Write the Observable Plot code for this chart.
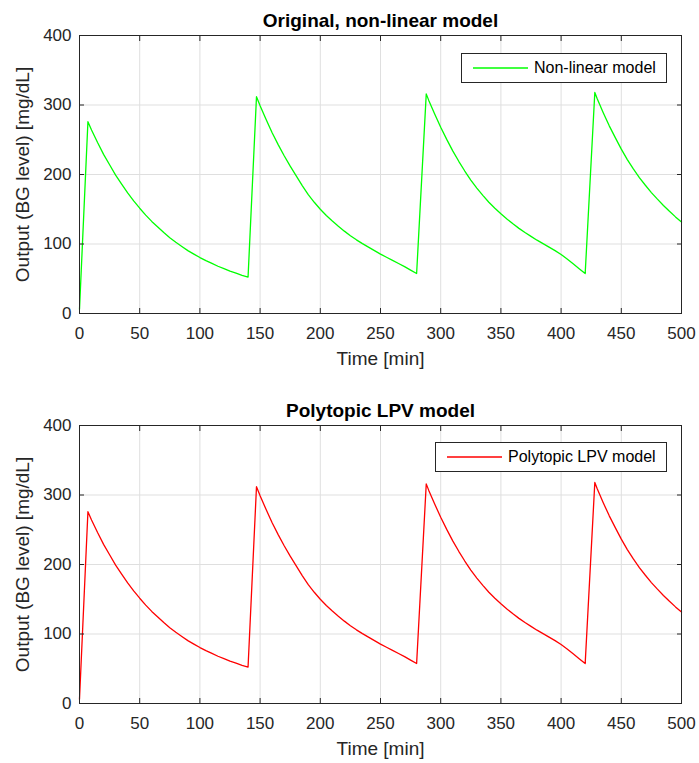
<!DOCTYPE html>
<html><head><meta charset="utf-8">
<script src="https://cdn.jsdelivr.net/npm/d3@7"></script>
<script src="https://cdn.jsdelivr.net/npm/@observablehq/plot@0.6"></script>
<style>
body{margin:0;background:#fff;font-family:"Liberation Sans",Arial,Helvetica,sans-serif;}
.panel{position:relative;width:699px;}
.panel svg{display:block;}
.legend{position:absolute;box-sizing:border-box;border:1px solid #262626;background:#fff;display:flex;align-items:center;font-size:16px;color:#000;padding-left:11px;}
.legend svg{margin-right:6px;}
</style></head><body>
<div id="chart"></div>
<script>
const time = [
  0, 7, 10, 15, 20, 25, 30, 35, 40, 45, 50, 55, 60, 65, 70, 75, 80, 85, 90, 95, 100, 105, 110, 115, 120, 125, 130, 135, 140,
  147, 150, 155, 160, 165, 170, 175, 180, 185, 190, 195, 200, 205, 210, 215, 220, 225, 230, 235, 240, 245, 250, 255, 260, 265, 270, 275, 280,
  288, 290, 295, 300, 305, 310, 315, 320, 325, 330, 335, 340, 345, 350, 355, 360, 365, 370, 375, 380, 385, 390, 395, 400, 405, 410, 415, 420,
  428, 430, 435, 440, 445, 450, 455, 460, 465, 470, 475, 480, 485, 490, 495, 500
];
const nonlinear = [
  6, 276, 264, 246, 229, 214, 199, 186, 173.5, 162, 151.5, 141.5, 132.5, 124.5, 116.5, 109, 102.5, 96.5, 90.5, 85.5, 80.5, 76, 72, 68, 64.5, 61, 58, 55, 52.5,
  312, 299, 279, 260, 243, 227, 212, 198, 184, 171, 160, 150, 141, 133, 125.5, 118.5, 112, 106, 100.5, 95.5, 90.5, 85.5, 81, 76.5, 72, 67.5, 62.5, 57.5,
  316, 307, 287, 268, 250.5, 234, 219, 205, 192, 180.5, 170, 160, 151.5, 143.5, 136, 129, 122.5, 116.5, 111, 105.5, 100.5, 95.5, 90.5, 85, 78.5, 71.5, 64.5, 57.5,
  318, 309, 289, 270, 253, 236.5, 221.5, 208, 195.5, 184.5, 174, 164.5, 155.5, 147, 139, 131.5
];
const lpv = [
  6, 276, 264, 246, 229, 214, 199, 186, 173.5, 162, 151.5, 141.5, 132.5, 124.5, 116.5, 109, 102.5, 96.5, 90.5, 85.5, 80.5, 76, 72, 68, 64.5, 61, 58, 55, 52.5,
  312, 299, 279, 260, 243, 227, 212, 198, 184, 171, 160, 150, 141, 133, 125.5, 118.5, 112, 106, 100.5, 95.5, 90.5, 85.5, 81, 76.5, 72, 67.5, 62.5, 57.5,
  316, 307, 287, 268, 250.5, 234, 219, 205, 192, 180.5, 170, 160, 151.5, 143.5, 136, 129, 122.5, 116.5, 111, 105.5, 100.5, 95.5, 90.5, 85, 78.5, 71.5, 64.5, 57.5,
  318, 309, 289, 270, 253, 236.5, 221.5, 208, 195.5, 184.5, 174, 164.5, 155.5, 147, 139, 131.5
];
const xTicks = [0, 50, 100, 150, 200, 250, 300, 350, 400, 450, 500];
const yTicks = [0, 100, 200, 300, 400];
const titles = ["Original, non-linear model", "Polytopic LPV model"];
const seriesNames = ["Non-linear model", "Polytopic LPV model"];
const colors = ["#00ff00", "#ff0000"];
const xLabel = "Time [min]";
const yLabel = "Output (BG level) [mg/dL]";

const FONT = "Liberation Sans, Arial, Helvetica, sans-serif";
const grid = {stroke: "#dfdfdf", strokeOpacity: 1, strokeWidth: 1};

function panel(title, values, color, name, height, marginBottom, legendBox) {
  const rows = time.map((t, i) => ({t, v: values[i]}));
  const svg = Plot.plot({
    width: 699, height, marginTop: 35, marginRight: 18, marginBottom, marginLeft: 79,
    style: {fontFamily: FONT, background: "white", color: "#262626", overflow: "visible"},
    x: {domain: [0, 500]},
    y: {domain: [0, 400]},
    marks: [
      Plot.gridX(xTicks, grid),
      Plot.gridY(yTicks, grid),
      Plot.line(rows, {x: "t", y: "v", stroke: color, strokeWidth: 1.3}),
      Plot.axisX(xTicks, {tickSize: 0, tickPadding: 13, fontSize: 17, label: null, fill: "#262626"}),
      Plot.axisX(xTicks, {tickSize: -5, tickFormat: () => "", label: null, stroke: "#262626"}),
      Plot.axisX(xTicks, {anchor: "top", tickSize: -5, tickFormat: () => "", label: null, stroke: "#262626"}),
      Plot.axisY(yTicks, {tickSize: 0, tickPadding: 8, fontSize: 17, label: null, fill: "#262626"}),
      Plot.axisY(yTicks, {tickSize: -5, tickFormat: () => "", label: null, stroke: "#262626"}),
      Plot.axisY(yTicks, {anchor: "right", tickSize: -5, tickFormat: () => "", label: null, stroke: "#262626"}),
      Plot.frame({stroke: "#262626"}),
      Plot.text([title], {frameAnchor: "top", dy: -15, lineAnchor: "middle", fontSize: 19, fontWeight: "bold", fill: "#000"}),
      Plot.text([xLabel], {frameAnchor: "bottom", dy: 45, lineAnchor: "middle", fontSize: 19, fill: "#262626"}),
      Plot.text([yLabel], {frameAnchor: "left", dx: -57, rotate: -90, textAnchor: "middle", lineAnchor: "middle", fontSize: 19, fill: "#262626"})
    ]
  });
  const div = document.createElement("div");
  div.className = "panel";
  div.appendChild(svg);
  const leg = document.createElement("div");
  leg.className = "legend";
  leg.style.left = legendBox[0] + "px";
  leg.style.top = legendBox[1] + "px";
  leg.style.width = legendBox[2] + "px";
  leg.style.height = legendBox[3] + "px";
  leg.innerHTML = `<svg width="55" height="4"><line x1="0" x2="55" y1="2" y2="2" stroke="${color}" stroke-width="1.3"/></svg><span>${name}</span>`;
  div.appendChild(leg);
  return div;
}

const root = document.getElementById("chart");
root.appendChild(panel(titles[0], nonlinear, colors[0], seriesNames[0], 390, 77, [461, 53, 206, 30]));
root.appendChild(panel(titles[1], lpv, colors[1], seriesNames[1], 373, 60, [435, 52, 232, 30]));
</script>
</body></html>
